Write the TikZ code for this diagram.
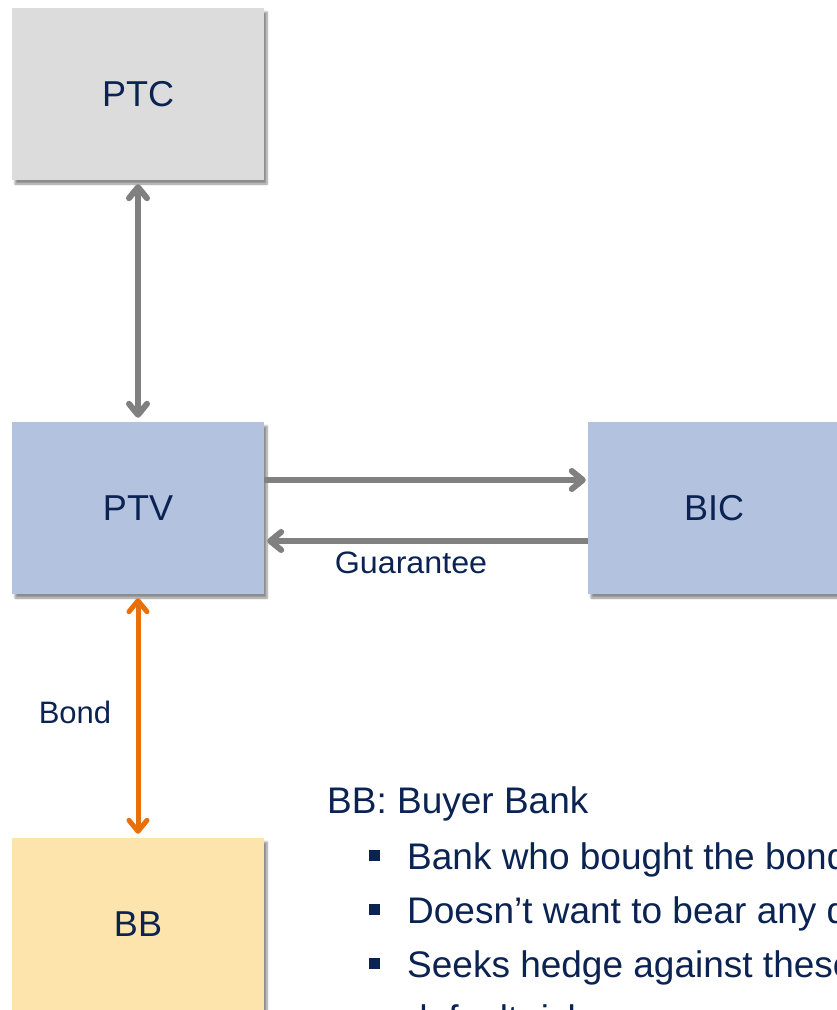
\documentclass[tikz,border=0pt]{standalone}
\usepackage{fontspec}
\setmainfont{Liberation Sans}
\usetikzlibrary{arrows.meta,shadows.blur}
\definecolor{navy}{HTML}{0B2353}
\definecolor{boxgray}{HTML}{DCDCDC}
\definecolor{boxblue}{HTML}{B3C2DE}
\definecolor{boxyellow}{HTML}{FCE4AC}
\definecolor{arrgray}{HTML}{808080}
\definecolor{arrorange}{HTML}{E8700A}
\tikzset{
  box/.style={minimum width=252pt, minimum height=172pt, inner sep=0pt,
    text=navy, font=\fontsize{36}{43}\selectfont,
    blur shadow={shadow xshift=3pt, shadow yshift=-4pt, shadow blur steps=6, shadow opacity=45}},
  barb/.tip={Straight Barb[length=11pt,width=18pt,line cap=round,line join=round]},
  garrow/.style={draw=arrgray, line width=6pt, barb-barb},
  garrowR/.style={draw=arrgray, line width=6pt, -barb},
  oarrow/.style={draw=arrorange, line width=5pt, barb-barb},
  lbl/.style={text=navy, font=\fontsize{31}{37}\selectfont, inner sep=0pt},
  bodytxt/.style={text=navy, font=\fontsize{37}{44}\selectfont, inner sep=0pt, anchor=base west},
  bullet/.style={fill=navy, minimum size=11pt, inner sep=0pt}
}
\begin{document}
\begin{tikzpicture}[x=1pt,y=-1pt]
\useasboundingbox (0,0) rectangle (837,1010);
\clip (0,0) rectangle (837,1010);
\node[box, fill=boxgray] (ptc) at (138,94) {PTC};
\node[box, fill=boxblue] (ptv) at (138,508) {PTV};
\node[box, fill=boxblue] (bic) at (714,508) {BIC};
\node[box, fill=boxyellow] (bb) at (138,924) {BB};

\draw[garrow, shorten <=4pt, shorten >=4pt] (ptc.south) -- (ptv.north);
\draw[garrowR, shorten >=2pt] ([yshift=28pt]ptv.east) -- ([yshift=28pt]bic.west);
\draw[garrowR, shorten >=3pt] ([yshift=-33pt]bic.west) -- ([yshift=-33pt]ptv.east);
\draw[oarrow, shorten <=4pt, shorten >=4pt] (ptv.south) -- (bb.north);

\node[lbl, xscale=1.04] (guar) at (411,563) {Guarantee};
\node[lbl] (bond) at (75,712) {Bond};

\node[bodytxt] (title) at (327,813) {BB: Buyer Bank};
\node[bullet] (b1) at (374,855) {};
\node[bodytxt] (t1) at (407,869) {Bank who bought the bond};
\node[bullet] (b2) at (374,909) {};
\node[bodytxt] (t2) at (407,923) {Doesn’t want to bear any default risk};
\node[bullet] (b3) at (374,963) {};
\node[bodytxt] (t3) at (407,977) {Seeks hedge against these};
\node[bodytxt] (t4) at (407,1031) {default risk};
\end{tikzpicture}
\end{document}
